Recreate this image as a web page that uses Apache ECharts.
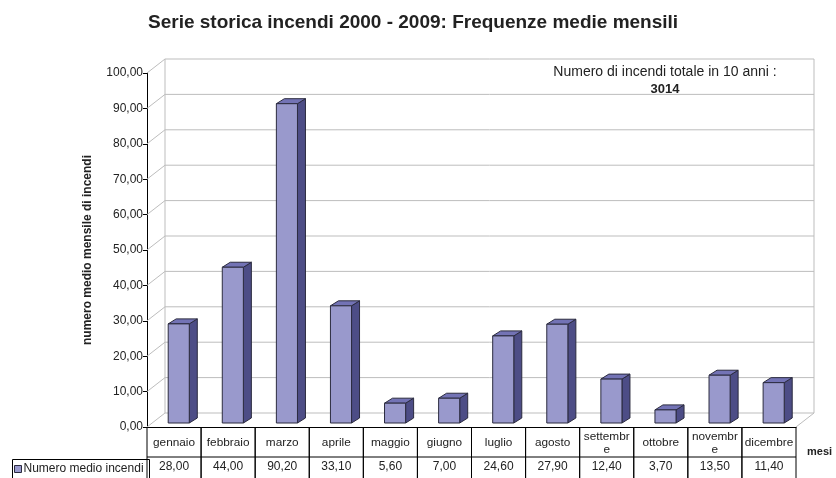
<!DOCTYPE html>
<html>
<head>
<meta charset="utf-8">
<script src="https://cdn.jsdelivr.net/npm/echarts@6/dist/echarts.min.js"></script>
<style>
  html, body { margin: 0; padding: 0; background: #fff; }
  #chart { width: 836px; height: 478px; }
</style>
</head>
<body>
<div id="chart"></div>
<script>
// Monthly averages of fires, 2000-2009
const months = ['gennaio', 'febbraio', 'marzo', 'aprile', 'maggio', 'giugno',
                'luglio', 'agosto', 'settembre', 'ottobre', 'novembre', 'dicembre'];
const medie = [28.00, 44.00, 90.20, 33.10, 5.60, 7.00, 24.60, 27.90, 12.40, 3.70, 13.50, 11.40];
const yTicks = [0, 10, 20, 30, 40, 50, 60, 70, 80, 90, 100];
const seriesName = 'Numero medio incendi';
const totaleIncendi = 3014;

const fmt = v => v.toFixed(2).replace('.', ',');

// layout of the pseudo-3D plot
const G = { left: 147, right: 40, top: 73, bottom: 51 };
const WALL = { x: 18, y: 14 };      // depth of the back wall
const BAR_OFF = { x: 4.7, y: 4 };   // bars stand a little behind the axis plane
const BAR_D = { x: 8, y: 5 };       // depth of each bar
const ROW1 = 30, ROW2 = 24;         // data table row heights
const FONT = 'Liberation Sans, Arial, sans-serif';
const TXT = '#222';

const chart = echarts.init(document.getElementById('chart'), null, { renderer: 'canvas' });

// back wall, side wall and floor with their gridlines
function renderFrame(params, api) {
  const cs = params.coordSys;
  const v = api.value(1);
  const y = api.coord([0, v])[1];
  const left = cs.x, right = cs.x + cs.width;
  const style = { stroke: '#bdbdbd', lineWidth: 1, fill: null };
  const children = [{
    type: 'polyline',
    shape: { points: [[left, y], [left + WALL.x, y - WALL.y], [right + WALL.x, y - WALL.y]] },
    style
  }];
  if (v === yTicks[0]) {
    children.push({ type: 'line', shape: { x1: right, y1: y, x2: right + WALL.x, y2: y - WALL.y }, style });
  }
  if (v === yTicks[yTicks.length - 1]) {
    const y0 = api.coord([0, yTicks[0]])[1];
    children.push({ type: 'line', shape: { x1: left + WALL.x, y1: y - WALL.y, x2: left + WALL.x, y2: y0 - WALL.y }, style });
    children.push({ type: 'line', shape: { x1: right + WALL.x, y1: y - WALL.y, x2: right + WALL.x, y2: y0 - WALL.y }, style });
  }
  return { type: 'group', children };
}

// 3D-looking column: front face, top and right side
function renderBar(params, api) {
  const i = api.value(0), v = api.value(1);
  const base = api.coord([i, 0]);
  const top = api.coord([i, v]);
  const w = api.size([1, 0])[0] * 0.39;
  const x0 = base[0] + BAR_OFF.x - w / 2, x1 = x0 + w;
  const yb = base[1] - BAR_OFF.y, yt = top[1] - BAR_OFF.y;
  const dx = BAR_D.x, dy = BAR_D.y;
  const edge = { stroke: '#2b2b3f', lineWidth: 1, lineJoin: 'round' };
  return {
    type: 'group',
    children: [
      { type: 'polygon', shape: { points: [[x1, yt], [x1 + dx, yt - dy], [x1 + dx, yb - dy], [x1, yb]] },
        style: Object.assign({ fill: '#4d4d86' }, edge) },
      { type: 'polygon', shape: { points: [[x0, yt], [x1, yt], [x1 + dx, yt - dy], [x0 + dx, yt - dy]] },
        style: Object.assign({ fill: '#7373b5' }, edge) },
      { type: 'rect', shape: { x: x0, y: yt, width: w, height: yb - yt },
        style: Object.assign({ fill: '#9999cc' }, edge) }
    ]
  };
}

// data table below the plot: month name row and value row
function renderTable(params, api) {
  const i = api.value(0), v = api.value(1);
  const p = api.coord([i, 0]);
  const w = api.size([1, 0])[0];
  const xl = p[0] - w / 2;
  const y0 = p[1];
  const line = { stroke: '#000', lineWidth: 1 };
  return {
    type: 'group',
    children: [
      { type: 'line', shape: { x1: xl, y1: y0, x2: xl, y2: y0 + ROW1 + ROW2 }, style: line },
      { type: 'line', shape: { x1: xl + w, y1: y0, x2: xl + w, y2: y0 + ROW1 + ROW2 }, style: line },
      { type: 'line', shape: { x1: xl, y1: y0 + ROW1, x2: xl + w, y2: y0 + ROW1 }, style: line },
      { type: 'text', x: p[0], y: y0 + ROW1 / 2 + 1,
        style: { text: months[i], fill: TXT, font: '11.8px ' + FONT, align: 'center', verticalAlign: 'middle',
                 width: 51, overflow: 'breakAll', lineHeight: 13 } },
      { type: 'text', x: p[0], y: y0 + ROW1 + ROW2 / 2 - 2,
        style: { text: fmt(v), fill: TXT, font: '12px ' + FONT, align: 'center', verticalAlign: 'middle' } }
    ]
  };
}

const option = {
  animation: false,
  backgroundColor: '#fff',
  title: {
    text: 'Serie storica incendi 2000 - 2009: Frequenze medie mensili',
    left: 143, top: 8,
    textStyle: { fontFamily: FONT, fontSize: 19, fontWeight: 'bold', color: TXT }
  },
  legend: {
    data: [{ name: seriesName, icon: 'rect', itemStyle: { color: '#9999cc', borderColor: '#2b2b3f', borderWidth: 1 } }],
    left: 9,
    itemWidth: 7, itemHeight: 7, itemGap: 2,
    textStyle: { fontFamily: FONT, fontSize: 12, color: TXT, padding: [0, 0, 0, -3] },
    selectedMode: false
  },
  grid: { left: G.left, right: G.right, top: G.top, bottom: G.bottom, containLabel: false },
  xAxis: {
    type: 'category',
    data: months,
    axisLine: { show: true, lineStyle: { color: '#000', width: 1 } },
    axisTick: { show: false },
    axisLabel: { show: false },
    splitLine: { show: false }
  },
  yAxis: {
    type: 'value',
    min: 0, max: 100, interval: 10,
    name: 'numero medio mensile di incendi',
    nameLocation: 'middle',
    nameGap: 53,
    nameTextStyle: { fontFamily: FONT, fontSize: 12, fontWeight: 'bold', color: TXT },
    axisLine: { show: true, lineStyle: { color: '#000', width: 1 } },
    axisTick: { show: true, length: 4, lineStyle: { color: '#000' } },
    axisLabel: { formatter: fmt, fontFamily: FONT, fontSize: 12, color: TXT, margin: 4 },
    splitLine: { show: false }
  },
  graphic: [
    { type: 'text', x: 665, y: 72,
      style: { text: 'Numero di incendi totale in 10 anni :', font: '14px ' + FONT, fill: TXT,
               align: 'center', verticalAlign: 'middle' } },
    { type: 'text', x: 665, y: 89,
      style: { text: String(totaleIncendi), font: 'bold 13px ' + FONT, fill: TXT,
               align: 'center', verticalAlign: 'middle' } },
    { type: 'text', x: 807, y: 452,
      style: { text: 'mesi', font: 'bold 11px ' + FONT, fill: TXT, verticalAlign: 'middle' } },
    { type: 'rect', left: 10, top: 478 - G.bottom + ROW1,
      shape: { width: G.left - 10, height: ROW2 + 5 },
      style: { fill: null, stroke: '#000', lineWidth: 1 } }
  ],
  series: [
    {
      type: 'custom', name: 'frame', silent: true, z: 1,
      data: yTicks.map(v => [0, v]),
      renderItem: renderFrame
    },
    {
      type: 'custom', name: seriesName, z: 3,
      itemStyle: { color: '#9999cc' },
      data: medie.map((v, i) => [i, v]),
      renderItem: renderBar
    },
    {
      type: 'custom', name: 'tabella', silent: true, z: 2,
      data: medie.map((v, i) => [i, v]),
      renderItem: renderTable
    }
  ]
};
option.legend.top = 478 - G.bottom + ROW1 + 1;
chart.setOption(option);
</script>
</body>
</html>
